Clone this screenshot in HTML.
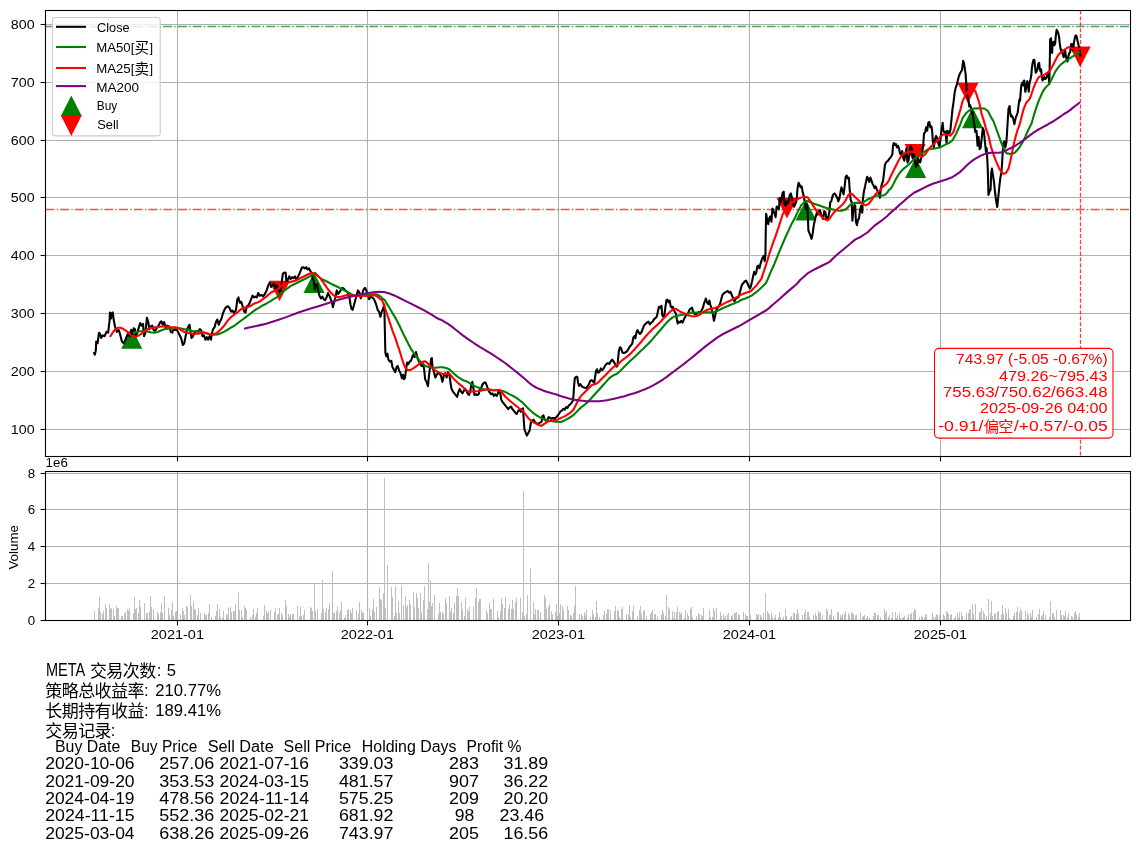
<!DOCTYPE html>
<html><head><meta charset="utf-8"><title>META strategy chart</title>
<style>html,body{margin:0;padding:0;background:#fff}body{width:1139px;height:852px;overflow:hidden;font-family:"Liberation Sans",sans-serif}</style></head>
<body>
<svg width="1139" height="852" viewBox="0 0 1139 852" style="display:block;will-change:transform">
<rect width="1139" height="852" fill="#fff"/>
<g stroke="#b0b0b0" stroke-width="1.1" fill="none">
<path d="M177.5 10.5 V456.5"/>
<path d="M367.5 10.5 V456.5"/>
<path d="M558.5 10.5 V456.5"/>
<path d="M749.5 10.5 V456.5"/>
<path d="M940.5 10.5 V456.5"/>
<path d="M45.5 429.5 H1130.5"/>
<path d="M45.5 371.5 H1130.5"/>
<path d="M45.5 313.5 H1130.5"/>
<path d="M45.5 255.5 H1130.5"/>
<path d="M45.5 197.5 H1130.5"/>
<path d="M45.5 140.5 H1130.5"/>
<path d="M45.5 82.5 H1130.5"/>
<path d="M45.5 24.5 H1130.5"/>
</g>
<path d="M45.5 26.5 H1130.5" stroke="#008000" stroke-opacity="0.7" stroke-width="1.39" stroke-dasharray="8.89 2.22 1.39 2.22" fill="none"/>
<path d="M45.5 209.5 H1130.5" stroke="#ff0000" stroke-opacity="0.7" stroke-width="1.39" stroke-dasharray="8.89 2.22 1.39 2.22" fill="none"/>
<path d="M1080.5 10.5 V456.5" stroke="#ff0000" stroke-opacity="0.75" stroke-width="1.3" stroke-dasharray="4.1 1.78" fill="none"/>
<clipPath id="c1"><rect x="45.5" y="10.5" width="1085" height="446"/></clipPath>
<g clip-path="url(#c1)">
<path d="M131.76 328.13 L121.21 348.73 L142.31 348.73 Z" fill="#008000"/>
<path d="M314.03 272.32 L303.48 292.92 L324.58 292.92 Z" fill="#008000"/>
<path d="M805.99 199.98 L795.44 220.58 L816.54 220.58 Z" fill="#008000"/>
<path d="M915.66 157.28 L905.11 177.88 L926.21 177.88 Z" fill="#008000"/>
<path d="M972.59 107.58 L962.04 128.18 L983.14 128.18 Z" fill="#008000"/>
<path d="M279.56 301.3 L269.01 280.7 L290.11 280.7 Z" fill="#ff0000"/>
<path d="M787.01 218.44 L776.46 197.84 L797.56 197.84 Z" fill="#ff0000"/>
<path d="M915.14 164.63 L904.59 144.03 L925.69 144.03 Z" fill="#ff0000"/>
<path d="M967.94 103.32 L957.39 82.72 L978.49 82.72 Z" fill="#ff0000"/>
<path d="M1080.17 67.02 L1069.62 46.42 L1090.72 46.42 Z" fill="#ff0000"/>
<g fill="none" stroke-width="2.08" stroke-linejoin="round" stroke-linecap="butt">
<path d="M93.73 352.04 L94.79 354.68 L95.85 350.28 L96.2 341.48 L97.61 343.24 L99.01 332.68 L100.25 334.44 L101.13 337.96 L102.89 335.32 L104.65 336.2 L106.41 331.8 L108.17 332.68 L109.58 320.35 L109.93 312.43 L110.99 318.59 L111.69 313.31 L112.75 312.43 L113.8 320.35 L115.21 327.39 L116.97 331.8 L118.73 330.04 L120.14 334.44 L121.9 341.48 L123.66 343.24 L125.42 339.72 L127.18 335.32 L128.42 332.68 L129.65 336.2 L131.06 330.04 L132.46 334.44 L133.7 328.27 L134.93 329.15 L135.99 336.2 L137.39 332.68 L138.8 327.39 L140.21 322.99 L141.62 325.63 L143.03 323.87 L144.08 336.2 L145.49 332.68 L146.9 317.71 L148.31 322.11 L149.37 329.15 L150.77 326.51 L152.18 325.63 L153.59 330.04 L155 330.92 L156.76 328.27 L158.52 325.63 L160.28 322.11 L161.34 321.23 L162.75 324.75 L164.15 322.11 L165.56 327.39 L167.32 325.63 L169.08 326.51 L170.85 331.8 L172.25 332.68 L173.66 329.15 L175.07 330.04 L176.48 329.15 L177.89 331.8 L179.3 334.44 L181.06 337.96 L182.82 345 L184.23 343.24 L185.63 336.2 L187.04 329.15 L188.45 326.51 L189.51 324.75 L190.56 332.68 L191.62 337.96 L193.03 336.2 L194.44 332.68 L196.2 330.92 L197.96 331.8 L199.72 329.15 L201.13 330.04 L202.54 336.2 L203.94 335.32 L205.35 339.72 L206.76 337.08 L208.17 339.72 L209.58 336.2 L210.99 339.72 L212.04 332.68 L213.1 329.15 L214.51 327.39 L215.92 322.11 L217.32 319.47 L218.73 324.75 L220.14 321.23 L221.55 318.59 L222.96 313.31 L224.37 309.79 L226.13 307.15 L227.89 306.27 L229.65 308.03 L231.06 311.55 L232.46 310.67 L234.23 313.31 L235.99 309.79 L237.39 299.23 L238.45 297.46 L239.86 302.75 L241.27 301.87 L242.68 306.27 L244.08 311.55 L245.49 312.43 L246.9 306.27 L248.31 305.39 L249.72 302.75 L251.13 299.23 L252.54 295.7 L253.94 297.46 L255.35 296.58 L256.76 297.46 L258.17 293.06 L259.58 295.7 L261.34 294.82 L263.1 296.58 L264.86 293.94 L266.62 290.42 L268.38 285.14 L269.79 282.5 L271.2 286.9 L272.61 285.14 L274.01 283.38 L275.42 288.66 L276.83 285.14 L278.59 290.42 L280.42 293.06 L281.83 281.62 L282.89 273.7 L284.3 272.46 L285.7 272.82 L286.41 282.5 L287.82 279.86 L289.23 276.34 L290.63 278.98 L292.04 277.22 L293.45 278.1 L294.86 276.34 L296.27 279.86 L297.68 277.22 L299.08 274.58 L300.49 271.06 L301.9 267.54 L303.31 267.18 L304.72 268.42 L306.13 267.18 L307.54 269.3 L308.94 268.42 L310.35 271.06 L311.76 273.7 L312.82 278.98 L313.87 281.62 L314.93 289.54 L315.99 285.14 L317.04 284.26 L318.1 290.42 L319.51 295.7 L320.92 298.35 L322.32 296.58 L323.73 299.23 L325.14 300.11 L326.55 297.46 L327.96 293.06 L329.37 295.7 L330.77 299.23 L332.18 303.63 L332.89 307.15 L333.94 302.75 L335.35 297.46 L336.76 290.42 L338.17 293.94 L339.58 292.18 L340.99 289.54 L342.39 287.78 L343.8 288.66 L345.21 290.42 L346.62 291.3 L348.03 293.06 L349.44 297.46 L350.49 304.51 L351.55 308.91 L352.61 309.79 L353.66 306.27 L355.07 300.99 L356.48 295.7 L357.89 290.42 L359.3 292.18 L360.7 298.35 L362.11 293.94 L363.52 289.54 L364.93 287.78 L366.34 290.42 L367.75 295.7 L369.15 299.23 L370.56 296.58 L371.97 297.46 L373.38 298.35 L374.79 300.99 L376.2 304.51 L377.61 309.79 L379.01 311.55 L380.42 316.83 L381.83 311.55 L383.24 308.03 L384.3 304.51 L385.35 352.82 L386.41 356.34 L387.46 353.7 L388.52 359.86 L389.93 361.62 L391.34 360.74 L392.39 366.9 L393.8 369.54 L395.21 372.18 L396.62 366.9 L397.68 366.02 L399.08 370.42 L400.49 373.06 L401.9 378.35 L402.96 374.82 L404.01 379.23 L405.07 377.46 L406.13 368.66 L407.18 362.5 L408.24 364.26 L409.65 361.62 L411.06 360.74 L412.46 356.34 L413.52 354.58 L414.58 357.22 L415.99 351.94 L417.04 356.34 L418.1 359.86 L419.51 362.5 L420.92 365.14 L421.97 366.02 L423.03 363.38 L424.08 368.66 L425.14 379.23 L426.55 381.87 L427.96 386.27 L429.01 375.7 L430.07 366.9 L431.13 358.98 L431.83 358.1 L432.54 366.9 L433.94 372.18 L435.35 377.46 L436.76 374.82 L438.17 372.18 L439.58 373.94 L440.99 375.7 L442.39 381.87 L443.8 375.7 L445.21 373.06 L446.62 377.46 L448.03 372.18 L449.44 374.82 L450.49 382.75 L451.55 388.91 L452.96 391.55 L454.37 393.31 L455.77 395.07 L457.18 396.83 L458.59 391.55 L459.65 388.91 L461.06 391.55 L462.46 393.31 L463.87 390.67 L465.28 388.91 L466.69 391.55 L468.1 394.19 L469.15 395.07 L470.21 391.55 L471.27 384.51 L472.32 381.87 L473.38 388.03 L474.44 395.07 L475.85 394.19 L477.25 395.07 L478.66 394.19 L479.72 389.79 L481.13 388.03 L482.54 384.51 L483.94 382.75 L485.35 382.39 L486.76 385.39 L488.17 389.79 L489.58 392.43 L490.99 394.19 L492.39 393.31 L493.8 395.95 L495.21 394.19 L496.62 395.95 L498.03 393.31 L499.08 389.79 L500.14 391.55 L501.2 399.47 L502.61 402.11 L504.01 403.87 L505.42 405.63 L506.83 407.39 L508.24 409.15 L509.65 407.39 L511.06 406.51 L512.46 409.15 L513.87 410.92 L515.28 412.68 L516.69 414.08 L518.1 410.92 L519.51 410.04 L520.92 411.8 L521.97 409.15 L523.03 408.27 L523.73 419.72 L524.44 429.4 L525.49 432.04 L526.9 435.56 L528.31 432.92 L529.72 430.28 L530.77 423.24 L532.18 420.6 L533.59 419.72 L535 422.36 L536.41 423.24 L537.82 424.12 L539.23 423.24 L540.63 422.36 L541.69 421.48 L542.39 416.2 L543.45 415.32 L544.51 419.72 L545.92 420.6 L547.32 419.72 L548.73 417.08 L550.14 417.96 L551.55 418.84 L552.96 417.96 L554.37 418.84 L555.77 417.61 L557.18 416.2 L558.59 414.44 L560.42 411.48 L561.83 410.6 L563.24 408.84 L564.65 409.72 L566.06 407.08 L567.46 407.96 L568.87 405.32 L570.28 404.44 L571.69 402.68 L572.75 400.92 L573.45 395.63 L574.15 385.07 L574.86 378.03 L576.27 376.62 L577.32 377.15 L578.03 382.43 L579.08 385.95 L580.49 384.19 L581.9 386.48 L583.31 387.18 L584.72 387.71 L586.13 388.24 L587.54 386.48 L588.94 384.19 L590.35 380.67 L591.76 380.14 L593.17 381.55 L594.23 382.96 L594.93 378.03 L595.99 370.99 L597.04 369.23 L598.1 372.75 L599.51 371.87 L600.92 368.35 L602.32 370.11 L603.73 368.35 L605.14 365.7 L606.55 363.94 L607.96 363.06 L609.37 363.94 L610.77 361.3 L612.18 359.54 L613.59 361.3 L615 363.94 L616.41 366.58 L617.46 365.7 L618.17 357.78 L618.87 350.74 L619.93 347.22 L620.99 348.1 L622.39 352.5 L623.8 353.03 L625.21 352.5 L626.62 351.62 L628.03 349.86 L629.44 347.22 L630.85 345.46 L632.25 343.7 L633.31 337.54 L634.37 336.13 L635.42 338.42 L636.48 332.25 L637.54 330.14 L638.59 332.25 L640 334.01 L641.41 332.25 L642.82 328.73 L644.23 325.21 L645.63 323.8 L647.04 322.57 L648.45 321.69 L649.86 324.33 L651.27 322.57 L652.68 321.69 L654.08 319.05 L655.49 318.17 L656.9 316.41 L657.96 311.13 L659.01 306.73 L660.42 307.61 L661.48 305.85 L662.18 314.65 L662.89 316.41 L664.3 315.53 L665.35 307.61 L666.41 300.21 L667.46 299.68 L668.52 302.32 L669.58 300.56 L670.63 305.85 L671.69 307.61 L672.75 306.73 L673.8 310.25 L674.86 312.01 L675.92 313.77 L676.97 319.93 L677.68 323.45 L678.73 321.69 L679.79 322.57 L681.2 320.81 L682.61 322.57 L684.01 319.05 L685.42 316.41 L686.83 314.65 L688.24 312.89 L689.65 309.37 L691.06 308.49 L692.11 307.61 L693.17 312.01 L694.58 313.77 L695.99 314.65 L697.39 312.89 L698.8 312.01 L700.21 312.54 L701.62 310.25 L703.03 307.61 L704.08 303.2 L705.14 300.56 L705.85 298.45 L706.9 302.32 L708.31 304.08 L709.37 300.56 L710.42 304.96 L711.83 309.37 L712.89 314.65 L713.94 320.81 L715 316.41 L716.06 311.13 L717.46 307.61 L718.87 306.73 L720.28 303.2 L721.34 298.8 L722.39 295.28 L723.45 293.52 L724.86 292.64 L726.27 291.76 L727.68 290.88 L729.08 292.64 L730.49 291.76 L731.9 295.28 L733.31 298.8 L734.37 301.44 L735.77 298.8 L737.18 297.92 L738.59 297.04 L740.42 290.28 L741.83 285 L743.24 283.24 L744.65 281.48 L746.06 280.6 L747.46 283.24 L748.87 286.76 L749.93 288.52 L750.99 285.88 L752.04 281.48 L753.1 276.2 L754.15 271.8 L755.21 274.44 L756.27 272.68 L757.32 266.51 L758.38 265.63 L759.44 268.27 L760.49 263.87 L761.55 260.35 L762.61 257.71 L763.66 255.95 L764.72 261.23 L765.42 255.07 L765.77 230.42 L766.13 213.7 L767.18 219.86 L768.24 224.26 L769.3 218.1 L770.35 216.34 L771.41 221.62 L772.46 208.42 L773.52 211.06 L774.58 213.7 L775.63 217.22 L776.69 206.65 L777.75 207.54 L778.8 209.3 L779.86 197.85 L780.92 202.25 L781.62 198.73 L782.68 192.57 L783.73 191.69 L784.44 204.01 L785.49 205.77 L786.55 201.37 L787.61 204.01 L788.66 201.37 L789.72 195.21 L790.77 193.45 L791.83 196.97 L792.89 203.13 L793.94 206.65 L795.35 204.01 L796.76 199.61 L797.46 189.05 L798.52 182.89 L799.58 184.65 L800.63 187.29 L801.69 186.41 L802.75 192.57 L803.8 196.09 L804.86 202.25 L805.92 209.3 L806.97 204.01 L807.68 210.18 L808.38 230.42 L809.44 233.06 L810.49 235.7 L811.55 238.87 L812.61 233.94 L813.66 226.02 L814.72 220.74 L815.77 216.34 L816.83 212.82 L817.89 214.58 L818.94 211.06 L820 210.18 L821.06 214.58 L822.11 217.22 L823.17 218.98 L824.23 211.06 L825.28 211.94 L826.34 218.1 L827.39 219.86 L828.45 216.34 L829.51 211.06 L830.21 202.25 L831.27 201.37 L832.32 196.97 L833.38 194.33 L834.44 193.45 L835.85 195.21 L837.25 197.85 L838.31 201.37 L839.37 198.73 L840.42 192.57 L841.48 187.29 L842.54 190.81 L843.59 194.33 L844.65 186.41 L845.7 176.73 L846.76 175.49 L847.82 178.49 L848.87 177.61 L849.58 188.17 L850.63 199.61 L851.69 202.25 L852.39 220.74 L853.45 209.3 L854.51 204.89 L855.21 205.77 L855.92 221.62 L856.97 225.14 L858.03 219.86 L859.08 218.1 L860.14 209.3 L861.2 205.77 L862.25 212.82 L862.96 198.73 L864.01 190.81 L865.07 186.41 L866.13 181.13 L867.18 176.73 L868.24 179.37 L869.3 182.01 L870.35 177.61 L871.41 180.25 L872.46 183.77 L873.52 185.53 L874.58 188.17 L875.63 186.41 L876.69 189.05 L877.75 191.69 L878.8 193.45 L879.86 197.85 L880.92 188.17 L881.97 183.77 L883.03 181.13 L884.93 165.07 L885.99 162.43 L887.04 161.55 L888.1 160.67 L889.15 158.91 L890.21 158.03 L891.27 156.27 L892.32 154.51 L893.03 145.7 L893.73 143.06 L894.79 144.82 L895.85 143.94 L896.9 147.46 L897.96 145.7 L899.01 148.35 L900.07 153.63 L901.13 154.51 L902.18 150.99 L903.24 158.03 L904.3 160.67 L905.35 154.51 L906.41 148.35 L907.46 162.43 L908.52 160.67 L909.58 152.75 L910.63 145.7 L911.69 148.35 L912.75 158.03 L913.8 152.75 L914.86 159.79 L915.92 166.83 L916.97 165.95 L918.03 158.03 L919.08 161.55 L920.14 162.43 L921.2 158.03 L922.25 152.75 L923.31 143.94 L924.01 133.38 L925.07 132.5 L926.13 127.22 L927.18 130.74 L928.24 122.82 L929.3 121.94 L930.35 127.22 L931.41 126.34 L932.11 130.74 L932.82 141.3 L933.87 147.46 L934.93 139.54 L935.99 136.02 L937.04 137.78 L938.1 142.18 L939.51 147.46 L940.56 138.66 L941.62 128.98 L942.68 122.82 L943.38 130.74 L944.44 132.5 L945.49 131.62 L946.55 143.06 L947.25 130.74 L948.31 131.62 L949.37 133.38 L950.42 129.86 L951.48 119.3 L952.54 108.73 L953.59 101.69 L954.65 92.89 L955.7 87.61 L956.76 84.96 L957.82 80.56 L958.87 76.16 L959.93 73.52 L960.99 71.76 L962.04 70 L963.1 60.77 L963.94 62.89 L964.79 68.52 L965.63 74.15 L966.2 82.61 L966.76 92.46 L967.61 96.69 L968.45 99.51 L969.3 106.55 L970.14 105.14 L970.99 107.96 L971.83 113.59 L972.68 112.18 L973.52 119.23 L974.37 124.86 L975.21 131.9 L976.48 130.74 L977.54 145.7 L978.59 136.9 L979.65 149.23 L980.7 147.46 L981.76 137.78 L982.82 128.1 L983.87 130.74 L984.93 142.18 L985.99 151.87 L986.69 148.35 L987.75 168.59 L988.45 195 L989.51 191.48 L990.56 189.72 L991.27 172.11 L991.97 168.59 L993.03 175.63 L994.08 182.68 L995.14 193.24 L996.2 201.16 L997.25 206.97 L998.31 196.76 L999.37 186.2 L1000.42 177.39 L1001.48 172.11 L1002.18 161.55 L1002.89 149.23 L1003.59 142.18 L1004.3 141.3 L1005.35 147.46 L1006.41 142.18 L1007.11 131.62 L1007.82 119.3 L1008.52 108.73 L1009.58 106.09 L1010.14 112.18 L1010.99 116.41 L1011.83 115.7 L1012.68 117.11 L1013.52 119.93 L1014.37 124.15 L1015.21 119.93 L1016.06 116.41 L1016.9 115 L1017.75 112.18 L1018.59 105.14 L1019.44 99.51 L1020 100.92 L1020.56 93.87 L1021.13 86.83 L1021.69 84.01 L1022.54 82.61 L1023.1 85.42 L1023.66 81.2 L1024.23 80.49 L1024.79 86.83 L1025.35 91.76 L1026.2 88.24 L1026.76 82.61 L1027.32 81.2 L1028.17 85.42 L1028.73 91.76 L1029.58 82.61 L1030.42 79.79 L1031.27 75.56 L1031.83 68.52 L1032.68 62.89 L1033.52 60.07 L1034.37 59.79 L1034.93 65.7 L1035.77 72.75 L1036.62 71.34 L1037.46 69.23 L1038.31 63.59 L1039.15 62.89 L1039.72 68.52 L1040.56 71.34 L1041.13 69.23 L1041.69 75.56 L1042.54 80.49 L1043.38 78.38 L1044.23 76.97 L1045.07 79.08 L1045.92 78.38 L1046.76 76.97 L1047.61 73.45 L1048.45 72.75 L1049.3 84.01 L1049.86 57.25 L1050.14 39.65 L1050.99 38.24 L1051.55 45.99 L1052.11 53.03 L1052.68 43.17 L1053.52 41.76 L1054.37 45.28 L1055.21 43.17 L1055.77 36.13 L1056.62 29.79 L1057.46 31.2 L1058.31 33.31 L1059.15 37.54 L1059.72 43.17 L1060.56 48.8 L1061.41 52.32 L1062.25 50.21 L1062.82 54.44 L1063.66 57.25 L1064.51 55.85 L1065.07 50.21 L1065.92 55.85 L1066.76 60.07 L1067.61 61.48 L1068.45 55.85 L1069.3 53.03 L1070.14 52.32 L1070.99 44.58 L1071.83 43.87 L1072.68 50.21 L1073.52 45.99 L1074.37 40.35 L1075.21 36.13 L1076.06 35.42 L1076.9 37.54 L1077.75 41.76 L1078.59 45.28 L1079.44 48.1 L1080.42 56.55" stroke="#000"/>
<path d="M132.82 332.68 L136.34 331.97 L139.86 331.27 L143.38 330.92 L146.9 331.27 L150.42 332.32 L153.94 332.68 L157.46 331.97 L160.99 330.56 L164.51 329.15 L168.03 328.8 L171.55 328.63 L175.07 328.27 L178.59 328.1 L182.11 328.8 L185.63 329.51 L189.15 330.21 L192.68 330.92 L196.2 331.27 L199.72 331.62 L203.24 332.32 L206.76 333.56 L210.28 334.44 L213.8 334.79 L217.32 334.44 L220.85 333.2 L224.37 331.62 L227.89 329.51 L231.41 327.39 L234.93 325.28 L238.45 322.64 L241.97 320 L245.49 317.36 L249.01 314.72 L252.54 311.9 L256.06 309.44 L259.58 307.32 L263.1 305.21 L266.62 303.45 L270.14 301.34 L273.66 299.23 L277.18 297.11 L281.13 293.06 L284.65 290.42 L288.17 287.78 L291.69 285.49 L295.21 283.73 L298.73 281.97 L302.25 280.21 L305.77 278.45 L309.3 276.69 L312.82 274.23 L314.93 272.82 L317.22 274.93 L319.86 277.75 L322.5 279.51 L325.14 280.74 L327.78 281.97 L330.42 283.38 L333.06 284.79 L335.7 286.02 L338.35 287.25 L340.99 288.66 L343.63 290.07 L346.27 291.3 L348.91 292.71 L351.55 294.3 L354.19 295.35 L356.83 296.06 L359.47 296.06 L362.11 295.7 L364.75 295.35 L367.39 295.35 L370.04 294.82 L372.68 294.3 L375.32 294.3 L377.96 294.82 L380.6 296.58 L383.24 299.23 L384.65 300 L387.29 304.4 L389.93 308.8 L392.57 313.2 L395.21 317.61 L397.85 322.54 L400.49 327.82 L403.13 333.45 L405.77 338.73 L408.42 344.01 L411.06 348.94 L413.7 352.82 L416.34 356.34 L418.98 359.86 L421.62 363.03 L424.26 365.14 L426.9 366.55 L429.54 367.25 L432.18 367.78 L434.82 367.78 L437.46 367.43 L440.11 367.25 L442.75 367.25 L445.39 367.78 L448.03 368.66 L450.67 370.42 L453.31 373.06 L455.95 375.35 L458.59 377.46 L461.23 379.23 L463.87 380.46 L466.51 381.34 L469.15 382.75 L471.8 384.51 L474.44 385.92 L477.08 387.15 L479.72 388.03 L482.36 388.91 L485 389.44 L487.64 389.79 L490.28 390.14 L492.92 390.32 L495.56 390.32 L498.2 390.32 L500.85 390.49 L503.49 391.2 L506.13 392.43 L508.77 393.84 L511.41 395.07 L514.05 396.48 L516.69 398.06 L519.33 400 L521.97 402.11 L524.61 404.75 L527.25 407.39 L529.89 410.04 L532.54 412.32 L535.18 414.44 L537.82 416.2 L540.46 417.61 L543.1 418.84 L545.74 419.72 L548.38 420.42 L551.02 420.95 L553.66 421.48 L556.3 421.83 L561.13 422.04 L563.77 420.81 L566.41 419.4 L569.05 417.99 L571.69 416.41 L574.33 414.12 L576.97 411.48 L579.61 408.84 L582.25 406.55 L584.89 404.44 L587.54 402.15 L590.18 399.51 L592.82 396.51 L595.46 393.52 L598.1 390.7 L600.74 387.71 L603.38 384.72 L606.02 381.9 L608.66 378.91 L611.3 376.62 L613.94 375.04 L616.58 373.98 L619.23 371.87 L621.87 369.23 L624.51 366.58 L627.15 363.94 L629.79 361.3 L632.43 359.01 L635.07 356.55 L637.71 353.91 L640.35 351.27 L642.99 348.98 L645.63 346.34 L648.27 343.7 L650.92 341.06 L653.56 337.89 L656.2 334.89 L658.84 331.73 L661.48 328.73 L664.12 325.56 L666.76 322.57 L669.4 319.93 L672.04 317.82 L674.68 316.41 L677.32 315.7 L679.96 315.18 L682.61 314.65 L685.25 314.12 L687.89 313.42 L690.53 312.89 L693.17 312.54 L695.81 312.54 L698.45 312.54 L701.09 312.54 L703.73 312.36 L706.37 312.36 L709.01 312.36 L711.65 312.36 L714.3 312.01 L716.94 311.13 L719.58 309.72 L722.22 308.49 L724.86 307.25 L727.5 306.2 L730.14 304.96 L732.78 304.08 L735.42 302.85 L738.06 301.8 L741.13 299.96 L744.65 298.73 L748.17 297.32 L751.69 295.56 L755.21 292.92 L758.73 289.93 L762.25 286.76 L765.77 283.24 L767.39 280 L770.56 272.39 L773.73 265.53 L776.9 257.6 L779.01 252.32 L782.18 244.93 L785.35 237.53 L788.52 230.67 L791.69 223.8 L794.86 217.99 L798.03 211.13 L801.2 205.32 L804.36 202.15 L807.53 201.09 L810.7 202.15 L813.87 203.73 L817.04 204.79 L820.21 205.84 L823.38 206.9 L826.55 207.96 L829.72 208.8 L832.88 209.54 L836.05 210.28 L839.22 210.81 L842.39 210.6 L845.56 209.54 L848.2 206.9 L850.84 204.26 L854.01 202.89 L857.18 202.68 L860.35 203.2 L863.52 202.15 L866.69 200.03 L869.86 198.45 L873.02 196.87 L876.19 195.81 L880 195.28 L881.97 195.74 L883.73 195.21 L885.49 194.33 L887.25 192.57 L889.01 189.93 L890.56 188.84 L893.2 184.44 L895.85 179.15 L898.49 174.75 L901.13 171.23 L903.77 168.59 L906.41 166.48 L909.05 164.19 L911.69 161.55 L914.33 158.91 L916.97 156.62 L919.61 154.86 L922.25 153.1 L924.89 151.34 L927.54 149.58 L930.18 148.87 L932.82 148.7 L935.46 148.35 L938.1 147.82 L940.74 147.11 L943.38 145.7 L946.02 144.3 L948.66 143.06 L951.3 141.3 L952.68 140 L956.2 133.52 L959.72 125.77 L962.54 118.03 L966.06 113.1 L969.58 110.28 L973.8 108.52 L978.73 108.17 L984.37 108.52 L987.89 110.99 L990.7 116.62 L993.31 120.99 L997.54 132.25 L1001.06 142.11 L1003.17 147.75 L1006.69 153.38 L1011.62 154.08 L1014.68 152.75 L1017.32 150.11 L1019.96 146.58 L1022.61 142.18 L1025.25 136.9 L1027.89 130.74 L1031.55 123.45 L1032.96 118.52 L1034.37 113.59 L1035.77 109.37 L1037.18 105.14 L1038.59 101.2 L1040 97.82 L1041.41 94.58 L1042.82 91.76 L1044.23 89.37 L1045.63 87.54 L1047.04 86.13 L1048.45 84.72 L1049.86 82.61 L1051.27 79.79 L1052.68 76.97 L1054.08 74.15 L1055.49 71.34 L1056.9 69.23 L1058.31 67.39 L1059.72 65.7 L1061.13 64.3 L1062.54 63.17 L1063.94 62.18 L1065.35 61.2 L1066.76 60.35 L1068.17 59.37 L1069.58 58.38 L1070.99 57.54 L1072.39 56.69 L1073.8 55.85 L1075.21 55 L1076.62 54.15 L1078.03 53.31 L1079.44 52.46 L1080.42 51.9" stroke="#008000"/>
<path d="M109.93 337.08 L112.57 332.68 L115.21 329.51 L117.85 327.75 L120.49 327.75 L123.13 328.8 L125.77 330.56 L128.42 332.68 L131.06 335.32 L133.7 336.55 L136.34 336.55 L138.98 335.32 L141.62 333.56 L144.26 331.27 L146.9 329.51 L149.54 328.27 L152.18 327.75 L154.82 327.39 L157.46 327.04 L160.11 326.69 L162.75 326.51 L165.39 326.51 L168.03 326.87 L170.67 327.22 L173.31 327.39 L175.95 327.39 L178.59 328.1 L181.23 330.04 L183.87 331.8 L186.51 332.68 L189.15 333.2 L191.8 333.56 L194.44 333.91 L197.08 333.73 L199.72 333.38 L202.36 332.68 L205 332.68 L207.64 333.56 L210.28 334.44 L212.92 334.44 L215.56 333.56 L218.2 331.8 L220.85 329.15 L223.49 326.51 L226.13 322.99 L228.77 319.47 L231.41 316.83 L234.05 314.72 L236.69 312.96 L239.33 310.67 L241.97 308.56 L244.61 307.5 L247.25 307.15 L249.89 306.27 L252.54 304.51 L255.18 303.1 L257.82 302.39 L260.46 300.99 L263.1 298.87 L265.74 297.11 L268.38 294.82 L271.02 292.54 L273.66 291.3 L276.3 290.42 L281.13 286.02 L284.65 283.73 L288.17 282.5 L291.69 281.62 L295.21 280.74 L298.73 278.98 L302.25 277.22 L305.77 275.46 L309.3 273.7 L311.94 272.82 L314.58 273.7 L317.22 275.46 L319.86 277.75 L322.5 281.27 L325.14 285.14 L327.78 289.01 L330.42 292.18 L333.06 294.82 L335.7 296.58 L338.35 297.11 L340.99 296.76 L343.63 296.06 L346.27 295.35 L348.91 295.18 L351.55 295.35 L354.19 295.7 L356.83 296.06 L359.47 296.06 L362.11 295.7 L364.75 295.7 L367.39 296.06 L370.04 295.7 L372.68 295.18 L375.32 295.35 L377.96 297.11 L380.6 299.58 L382.01 300 L384.65 307.04 L387.29 314.96 L389.93 322.89 L392.57 330.81 L395.21 337.85 L397.85 345.77 L400.49 353.7 L403.13 362.5 L405.42 367.78 L407.54 369.89 L410.18 370.07 L412.82 368.66 L415.46 366.9 L418.1 364.79 L420.74 362.85 L423.03 361.62 L424.79 361.27 L426.9 362.5 L429.54 365.14 L432.18 367.78 L434.82 370.07 L437.46 371.83 L440.11 373.06 L442.75 373.94 L445.39 373.94 L448.03 373.59 L449.79 373.94 L452.43 377.46 L455.07 380.11 L457.71 382.75 L460.35 384.86 L462.99 387.15 L465.63 389.44 L468.27 391.55 L470.04 392.08 L472.68 391.55 L475.32 391.2 L477.96 391.02 L480.6 390.67 L483.24 390.14 L485.88 389.44 L488.17 388.91 L490.28 389.44 L492.92 390.14 L495.56 390.32 L498.2 390.14 L499.96 390.32 L502.61 393.31 L505.25 396.48 L507.89 398.94 L510.53 401.23 L513.17 403.52 L515.81 405.63 L518.45 407.75 L521.09 409.51 L522.85 410.92 L525.49 414.44 L528.13 417.96 L530.77 420.6 L533.42 422.36 L536.06 423.59 L538.7 425 L541.34 425.88 L543.98 424.12 L546.62 422.36 L549.26 421.13 L551.9 420.6 L554.54 420.25 L557.18 419.72 L560.25 418.17 L562.89 417.11 L565.53 415.88 L568.17 414.12 L570.81 412.36 L573.45 409.72 L576.09 404.44 L578.73 399.15 L581.37 395.63 L584.01 392.99 L586.65 390.35 L589.3 387.71 L591.94 385.07 L594.58 384.19 L597.22 383.31 L599.86 380.67 L602.5 378.03 L605.14 375.39 L607.78 372.75 L610.42 370.11 L613.06 367.46 L615.7 365.7 L618.35 363.94 L620.99 361.3 L623.63 359.19 L626.27 357.25 L628.91 355.14 L631.55 352.5 L634.19 349.86 L636.83 346.69 L639.47 343.7 L642.11 340.7 L644.75 337.54 L647.39 334.37 L650.04 331.73 L652.68 329.08 L655.32 326.62 L657.96 324.33 L660.6 321.69 L663.24 318.7 L665.88 316.06 L668.52 313.24 L671.16 310.77 L673.8 309.01 L675.92 308.84 L678.2 310.25 L680.85 312.01 L683.49 312.89 L686.13 314.3 L688.77 315.53 L691.41 316.06 L694.05 316.41 L696.69 316.06 L699.33 315 L701.97 313.24 L704.61 311.13 L707.25 309.72 L709.89 309.01 L712.54 308.49 L715.18 307.96 L717.82 306.73 L720.46 305.49 L723.1 304.08 L725.74 302.68 L728.38 301.44 L731.02 300.21 L733.66 298.8 L736.3 297.39 L741.13 294.68 L744.65 293.27 L748.17 292.04 L750.81 291.16 L753.45 288.52 L756.09 285.88 L758.73 282.36 L761.37 278.84 L763.17 273.45 L766.34 263.94 L769.51 253.38 L772.68 243.87 L775.84 235.42 L779.01 225.91 L782.71 214.29 L786.41 207.96 L790.63 203.73 L794.86 200.56 L799.08 198.24 L803.31 196.87 L807.53 197.18 L810.7 201.62 L813.87 206.9 L817.57 212.18 L821.27 216.41 L824.43 219.05 L827.6 220.42 L830.24 217.68 L832.88 213.77 L836.05 210.07 L839.22 207.43 L842.39 204.79 L845.56 200.56 L848.2 195.28 L850.31 193.17 L852.95 194.75 L856.12 197.92 L859.29 201.09 L862.46 203.73 L865.63 205.32 L868.8 203.73 L871.97 199.51 L875.14 194.75 L878.31 191.58 L880 190.53 L881.97 187.29 L883.73 186.06 L885.49 184.65 L887.25 182.89 L889.01 180.25 L890.56 176.51 L893.2 171.23 L895.85 165.95 L898.49 160.67 L901.13 156.27 L903.77 153.63 L906.41 152.39 L909.05 151.87 L911.69 151.87 L914.33 152.39 L916.97 153.63 L919.61 156.27 L922.25 156.62 L924.89 154.51 L927.54 150.99 L930.18 147.46 L932.82 144.82 L935.46 142.18 L938.1 140.07 L940 137.04 L943.52 134.23 L947.04 134.79 L950.56 135.63 L953.38 132.11 L955.49 125.77 L958.31 116.62 L960.42 109.58 L962.54 101.13 L964.65 96.9 L966.41 93.38 L968.17 91.27 L970.99 90.42 L973.8 90.42 L975.21 90.7 L977.32 96.9 L979.44 103.24 L981.55 113.8 L983.66 120.14 L985.77 127.89 L988.59 136.34 L990.92 146.58 L993.56 154.51 L996.2 161.55 L998.84 167.71 L1001.48 172.11 L1003.24 173.87 L1005.88 172.99 L1008.52 168.59 L1010.28 161.55 L1012.04 152.75 L1013.8 143.94 L1015.56 136.9 L1017.32 130.74 L1019.58 124.86 L1020.99 119.23 L1022.39 113.59 L1023.8 108.66 L1025.21 105.14 L1026.62 102.32 L1028.03 100.63 L1029.44 99.23 L1030.85 95.99 L1032.25 91.76 L1033.66 87.54 L1035.07 84.01 L1036.48 81.2 L1037.89 78.38 L1039.3 76.69 L1040.7 76.27 L1042.11 75.85 L1043.52 75.28 L1044.93 74.44 L1046.34 73.45 L1047.75 72.46 L1049.15 71.34 L1050.56 69.65 L1051.97 67.11 L1053.38 64.3 L1054.79 61.48 L1056.2 58.66 L1057.61 56.13 L1059.01 54.15 L1060.42 52.75 L1061.83 51.62 L1063.24 50.49 L1064.65 49.51 L1066.06 48.52 L1067.46 47.68 L1068.87 47.11 L1070.28 47.68 L1071.69 48.52 L1073.1 48.8 L1074.51 48.52 L1075.92 48.24 L1077.32 48.24 L1078.73 48.8 L1080.42 49.65" stroke="#ff0000"/>
<path d="M244.09 328.7 L249.02 327.59 L253.95 326.48 L260.11 325.13 L266.27 323.77 L272.43 321.8 L278.6 319.7 L284.76 317.61 L290.92 315.39 L297.08 313.05 L299.79 312.06 L306.16 310.09 L312.32 307.99 L318.49 306.15 L324.65 304.3 L330.81 302.33 L336.97 300.35 L343.14 298.51 L349.3 296.9 L355.46 295.42 L361.62 294.19 L367.78 293.08 L373.95 292.22 L378.88 291.85 L383.81 291.97 L388.74 293.21 L393.67 295.18 L398.6 297.52 L404.76 300.6 L410.92 303.68 L417.08 306.76 L423.24 309.84 L429.41 313.42 L435.57 317.24 L439.27 319.33 L440.99 319.72 L444.51 321.83 L448.03 323.94 L451.55 326.41 L455.07 329.23 L458.59 332.04 L462.11 334.86 L465.63 337.32 L469.15 339.79 L472.68 342.25 L476.2 344.54 L479.72 346.83 L483.24 348.94 L486.76 351.06 L490.28 353.17 L493.8 355.46 L497.32 357.75 L500.85 360.04 L504.37 362.5 L507.89 365.14 L511.41 367.96 L514.93 370.77 L518.45 373.59 L521.97 376.58 L525.49 379.58 L529.01 382.75 L532.54 385.39 L536.06 387.5 L539.58 389.08 L543.1 390.49 L546.62 391.73 L550.14 392.78 L553.66 393.84 L557.18 394.72 L561.13 396.16 L564.65 397.22 L568.17 398.27 L571.69 399.15 L575.21 399.86 L578.73 400.39 L582.25 400.74 L585.77 401.09 L589.3 401.27 L592.82 401.27 L596.34 401.27 L599.86 401.09 L603.38 400.74 L606.9 400.21 L610.42 399.51 L613.94 398.8 L617.46 397.92 L620.99 397.04 L624.51 396.16 L628.03 395.11 L631.55 394.05 L635.07 392.99 L638.59 391.76 L642.11 390.35 L645.63 388.94 L649.15 387.36 L652.68 385.6 L656.2 383.66 L659.72 381.55 L663.24 379.26 L666.76 376.8 L670.28 374.15 L673.8 371.51 L677.32 368.87 L680.85 366.23 L684.37 363.59 L687.89 360.77 L691.41 357.96 L694.93 355.14 L698.45 352.15 L701.97 349.33 L705.49 346.34 L709.01 343.7 L712.54 341.06 L716.06 338.42 L719.58 336.13 L723.1 334.01 L726.62 332.25 L730.14 330.49 L733.66 328.73 L737.18 326.97 L740 325.56 L766.65 310 L769.3 307.89 L772.82 304.72 L776.34 301.73 L779.86 298.73 L783.38 295.56 L786.9 292.39 L790.42 289.4 L793.94 286.41 L797.46 283.24 L800.14 280 L807.53 273.45 L814.93 269.22 L823.38 265 L829.72 261.83 L836.05 255.49 L842.39 250.21 L848.73 244.93 L855.07 239.65 L861.4 236.48 L867.74 232.25 L869.98 230 L875.26 225.07 L881.13 220.96 L887 216.27 L891.1 212.16 L895.21 208.87 L899.91 204.53 L904.6 200.42 L909.3 196.31 L913.99 192.79 L918.69 190.45 L923.38 188.1 L928.08 185.75 L932.77 183.76 L937.46 182.23 L942.16 180.7 L946.85 179.3 L951.55 177.54 L956.24 174.6 L959.23 172.64 L961.87 170.35 L964.51 167.71 L967.15 165.07 L969.79 162.78 L972.43 160.67 L975.07 158.91 L977.71 157.32 L980.35 155.92 L982.99 154.68 L985.63 153.63 L988.27 153.1 L990.92 152.75 L993.56 152.75 L996.2 152.75 L998.84 152.75 L1001.48 152.39 L1004.12 151.51 L1006.76 150.11 L1009.4 148.7 L1012.04 147.46 L1014.68 146.06 L1017.32 144.47 L1019.96 142.71 L1022.61 140.95 L1025.25 139.01 L1027.89 136.9 L1030.53 134.79 L1033.17 132.85 L1035.81 131.09 L1038.45 129.51 L1041.09 128.1 L1043.73 126.69 L1046.37 125.28 L1049.01 123.7 L1051.65 122.29 L1054.3 120.53 L1056.94 118.77 L1059.58 117.01 L1062.22 115.25 L1064.86 113.49 L1067.5 111.9 L1070.14 110.14 L1072.78 107.85 L1075.42 105.74 L1078.06 103.8 L1080 102.22" stroke="#800080"/>
</g></g>
<rect x="45.5" y="10.5" width="1085" height="446" fill="none" stroke="#000" stroke-width="1.1"/>
<g stroke="#000" stroke-width="1.1">
<path d="M40.6 429.5 H45.5"/>
<path d="M40.6 371.5 H45.5"/>
<path d="M40.6 313.5 H45.5"/>
<path d="M40.6 255.5 H45.5"/>
<path d="M40.6 197.5 H45.5"/>
<path d="M40.6 140.5 H45.5"/>
<path d="M40.6 82.5 H45.5"/>
<path d="M40.6 24.5 H45.5"/>
<path d="M177.5 456.5 V461.4"/>
<path d="M367.5 456.5 V461.4"/>
<path d="M558.5 456.5 V461.4"/>
<path d="M749.5 456.5 V461.4"/>
<path d="M940.5 456.5 V461.4"/>
</g>
<g font-family="Liberation Sans, sans-serif">
<text x="34.6" y="434.1" font-size="12" text-anchor="end" fill="#000" textLength="23.8" lengthAdjust="spacingAndGlyphs" >100</text>
<text x="34.6" y="376.1" font-size="12" text-anchor="end" fill="#000" textLength="23.8" lengthAdjust="spacingAndGlyphs" >200</text>
<text x="34.6" y="318.1" font-size="12" text-anchor="end" fill="#000" textLength="23.8" lengthAdjust="spacingAndGlyphs" >300</text>
<text x="34.6" y="260.1" font-size="12" text-anchor="end" fill="#000" textLength="23.8" lengthAdjust="spacingAndGlyphs" >400</text>
<text x="34.6" y="202.1" font-size="12" text-anchor="end" fill="#000" textLength="23.8" lengthAdjust="spacingAndGlyphs" >500</text>
<text x="34.6" y="145.1" font-size="12" text-anchor="end" fill="#000" textLength="23.8" lengthAdjust="spacingAndGlyphs" >600</text>
<text x="34.6" y="87.1" font-size="12" text-anchor="end" fill="#000" textLength="23.8" lengthAdjust="spacingAndGlyphs" >700</text>
<text x="34.6" y="29.1" font-size="12" text-anchor="end" fill="#000" textLength="23.8" lengthAdjust="spacingAndGlyphs" >800</text>
</g>
<rect x="52.5" y="17.5" width="107.7" height="118.4" rx="2.8" fill="#fff" fill-opacity="0.8" stroke="#ccc" stroke-width="1.1"/>
<g stroke-width="2.08">
<path d="M56 26.8 H86" stroke="#000"/>
<path d="M56 47 H86" stroke="#008000"/>
<path d="M56 68 H86" stroke="#ff0000"/>
<path d="M56 86.1 H86" stroke="#800080"/>
</g>
<path d="M71.3 95.6 L60.75 116.2 L81.85 116.2 Z" fill="#008000"/>
<path d="M71.3 135.9 L60.75 115.3 L81.85 115.3 Z" fill="#ff0000"/>
<g font-family="Liberation Sans, sans-serif">
<text x="97.1" y="32" font-size="12.2" text-anchor="start" fill="#000" textLength="32.5" lengthAdjust="spacingAndGlyphs" >Close</text>
<text x="96.2" y="52" font-size="12.2" text-anchor="start" fill="#000" textLength="38.2" lengthAdjust="spacingAndGlyphs" >MA50[</text>
<text x="134.4" y="52.9" font-size="14.6" fill="#000" font-family="'Liberation Sans', 'Noto Sans CJK SC', sans-serif">买</text>
<text x="149.4" y="52" font-size="12.2" text-anchor="start" fill="#000" textLength="3.6" lengthAdjust="spacingAndGlyphs" >]</text>
<text x="96.2" y="72.7" font-size="12.2" text-anchor="start" fill="#000" textLength="38.2" lengthAdjust="spacingAndGlyphs" >MA25[</text>
<text x="134.4" y="73.6" font-size="14.6" fill="#000" font-family="'Liberation Sans', 'Noto Sans CJK SC', sans-serif">卖</text>
<text x="149.4" y="72.7" font-size="12.2" text-anchor="start" fill="#000" textLength="3.6" lengthAdjust="spacingAndGlyphs" >]</text>
<text x="96.2" y="92.1" font-size="12.2" text-anchor="start" fill="#000" textLength="42.8" lengthAdjust="spacingAndGlyphs" >MA200</text>
<text x="96.8" y="109.5" font-size="12.2" text-anchor="start" fill="#000" textLength="20.5" lengthAdjust="spacingAndGlyphs" >Buy</text>
<text x="97.3" y="128.9" font-size="12.2" text-anchor="start" fill="#000" textLength="21.4" lengthAdjust="spacingAndGlyphs" >Sell</text>
</g>
<rect x="934.5" y="348.4" width="178.5" height="89.7" rx="4.5" fill="#fff" fill-opacity="0.9" stroke="#ff0000" stroke-width="1.1"/>
<g font-family="Liberation Sans, sans-serif">
<text x="1107.6" y="363.6" font-size="15.1" text-anchor="end" fill="#ff0000" textLength="151.5" lengthAdjust="spacingAndGlyphs" >743.97 (-5.05 -0.67%)</text>
<text x="1107.6" y="381" font-size="15.1" text-anchor="end" fill="#ff0000" textLength="108.5" lengthAdjust="spacingAndGlyphs" >479.26~795.43</text>
<text x="1107.6" y="396.7" font-size="15.1" text-anchor="end" fill="#ff0000" textLength="164.8" lengthAdjust="spacingAndGlyphs" >755.63/750.62/663.48</text>
<text x="1107.6" y="412.9" font-size="15.1" text-anchor="end" fill="#ff0000" textLength="127.5" lengthAdjust="spacingAndGlyphs" >2025-09-26 04:00</text>
<text x="938.2" y="431.1" font-size="15.1" text-anchor="start" fill="#ff0000" textLength="45.2" lengthAdjust="spacingAndGlyphs" >-0.91/</text>
<text x="983.7" y="432.3" font-size="15.2" fill="#ff0000" font-family="'Liberation Sans', 'Noto Sans CJK SC', sans-serif" textLength="29.8" lengthAdjust="spacing">偏空</text>
<text x="1107.6" y="431.1" font-size="15.1" text-anchor="end" fill="#ff0000" textLength="93.6" lengthAdjust="spacingAndGlyphs" >/+0.57/-0.05</text>
</g>
<g stroke="#b0b0b0" stroke-width="1.1" fill="none">
<path d="M177.5 471.5 V620.5"/>
<path d="M367.5 471.5 V620.5"/>
<path d="M558.5 471.5 V620.5"/>
<path d="M749.5 471.5 V620.5"/>
<path d="M940.5 471.5 V620.5"/>
<path d="M45.5 583.5 H1130.5"/>
<path d="M45.5 546.5 H1130.5"/>
<path d="M45.5 509.5 H1130.5"/>
<path d="M45.5 473.5 H1130.5"/>
</g>
<path d="M94 620.5 v-9.02 h1 v9.02 zM98 620.5 v-12.75 h1 v12.75 zM99 620.5 v-23.93 h1 v23.93 zM100 620.5 v-8.79 h1 v8.79 zM102 620.5 v-6.66 h1 v6.66 zM103 620.5 v-9.2 h1 v9.2 zM105 620.5 v-16.7 h1 v16.7 zM106 620.5 v-12.25 h1 v12.25 zM109 620.5 v-16.15 h1 v16.15 zM110 620.5 v-11.33 h1 v11.33 zM111 620.5 v-12.09 h1 v12.09 zM113 620.5 v-11.01 h1 v11.01 zM114 620.5 v-4.78 h1 v4.78 zM116 620.5 v-14.88 h1 v14.88 zM117 620.5 v-12.72 h1 v12.72 zM118 620.5 v-12.67 h1 v12.67 zM121 620.5 v-4.73 h1 v4.73 zM122 620.5 v-4.62 h1 v4.62 zM124 620.5 v-6.79 h1 v6.79 zM125 620.5 v-8.2 h1 v8.2 zM127 620.5 v-11.62 h1 v11.62 zM128 620.5 v-9.92 h1 v9.92 zM129 620.5 v-12.8 h1 v12.8 zM133 620.5 v-7.58 h1 v7.58 zM134 620.5 v-23.93 h1 v23.93 zM135 620.5 v-11.63 h1 v11.63 zM136 620.5 v-12.09 h1 v12.09 zM138 620.5 v-7.52 h1 v7.52 zM139 620.5 v-20.25 h1 v20.25 zM140 620.5 v-13.01 h1 v13.01 zM144 620.5 v-17.35 h1 v17.35 zM146 620.5 v-7.66 h1 v7.66 zM147 620.5 v-7.26 h1 v7.26 zM149 620.5 v-8.67 h1 v8.67 zM150 620.5 v-24.85 h1 v24.85 zM151 620.5 v-13.46 h1 v13.46 zM153 620.5 v-11.32 h1 v11.32 zM157 620.5 v-8.28 h1 v8.28 zM158 620.5 v-6.58 h1 v6.58 zM160 620.5 v-8.01 h1 v8.01 zM161 620.5 v-17.54 h1 v17.54 zM162 620.5 v-7.04 h1 v7.04 zM164 620.5 v-24.85 h1 v24.85 zM168 620.5 v-12.27 h1 v12.27 zM169 620.5 v-5.18 h1 v5.18 zM171 620.5 v-10.35 h1 v10.35 zM172 620.5 v-18.23 h1 v18.23 zM173 620.5 v-4.09 h1 v4.09 zM175 620.5 v-8.76 h1 v8.76 zM176 620.5 v-9.65 h1 v9.65 zM180 620.5 v-7 h1 v7 zM182 620.5 v-12.55 h1 v12.55 zM183 620.5 v-9.72 h1 v9.72 zM184 620.5 v-5.15 h1 v5.15 zM186 620.5 v-14.34 h1 v14.34 zM187 620.5 v-13.3 h1 v13.3 zM190 620.5 v-25.77 h1 v25.77 zM191 620.5 v-14.86 h1 v14.86 zM193 620.5 v-18.42 h1 v18.42 zM194 620.5 v-11.29 h1 v11.29 zM195 620.5 v-10.08 h1 v10.08 zM197 620.5 v-5.28 h1 v5.28 zM198 620.5 v-12.45 h1 v12.45 zM200 620.5 v-7.11 h1 v7.11 zM204 620.5 v-7.53 h1 v7.53 zM205 620.5 v-5.2 h1 v5.2 zM206 620.5 v-5.92 h1 v5.92 zM208 620.5 v-7.15 h1 v7.15 zM209 620.5 v-16.14 h1 v16.14 zM211 620.5 v-3.59 h1 v3.59 zM215 620.5 v-4.58 h1 v4.58 zM216 620.5 v-9.79 h1 v9.79 zM217 620.5 v-16.75 h1 v16.75 zM219 620.5 v-11.25 h1 v11.25 zM220 620.5 v-3.67 h1 v3.67 zM222 620.5 v-2.75 h1 v2.75 zM223 620.5 v-10 h1 v10 zM226 620.5 v-6.05 h1 v6.05 zM227 620.5 v-5.06 h1 v5.06 zM228 620.5 v-12.95 h1 v12.95 zM230 620.5 v-13.59 h1 v13.59 zM231 620.5 v-8.87 h1 v8.87 zM233 620.5 v-9.19 h1 v9.19 zM234 620.5 v-9.99 h1 v9.99 zM235 620.5 v-16.39 h1 v16.39 zM238 620.5 v-28.9 h1 v28.9 zM239 620.5 v-10.28 h1 v10.28 zM241 620.5 v-10.38 h1 v10.38 zM242 620.5 v-4 h1 v4 zM244 620.5 v-14.35 h1 v14.35 zM245 620.5 v-12.36 h1 v12.36 zM246 620.5 v-10.19 h1 v10.19 zM250 620.5 v-3.28 h1 v3.28 zM252 620.5 v-5.97 h1 v5.97 zM253 620.5 v-11.58 h1 v11.58 zM255 620.5 v-3.49 h1 v3.49 zM256 620.5 v-7.25 h1 v7.25 zM257 620.5 v-12.44 h1 v12.44 zM263 620.5 v-4.31 h1 v4.31 zM264 620.5 v-15.51 h1 v15.51 zM266 620.5 v-9.9 h1 v9.9 zM267 620.5 v-7.2 h1 v7.2 zM268 620.5 v-8.9 h1 v8.9 zM270 620.5 v-10.26 h1 v10.26 zM274 620.5 v-8.03 h1 v8.03 zM275 620.5 v-12.71 h1 v12.71 zM277 620.5 v-5.61 h1 v5.61 zM278 620.5 v-6.26 h1 v6.26 zM279 620.5 v-12.02 h1 v12.02 zM281 620.5 v-7.58 h1 v7.58 zM282 620.5 v-5.03 h1 v5.03 zM285 620.5 v-20.25 h1 v20.25 zM286 620.5 v-14.35 h1 v14.35 zM288 620.5 v-6.05 h1 v6.05 zM289 620.5 v-3.96 h1 v3.96 zM290 620.5 v-6.95 h1 v6.95 zM292 620.5 v-7 h1 v7 zM293 620.5 v-6.59 h1 v6.59 zM297 620.5 v-14.49 h1 v14.49 zM299 620.5 v-4.91 h1 v4.91 zM300 620.5 v-13.83 h1 v13.83 zM301 620.5 v-4.46 h1 v4.46 zM303 620.5 v-5.61 h1 v5.61 zM304 620.5 v-10.68 h1 v10.68 zM310 620.5 v-13.79 h1 v13.79 zM311 620.5 v-12.26 h1 v12.26 zM312 620.5 v-9.77 h1 v9.77 zM314 620.5 v-37.74 h1 v37.74 zM315 620.5 v-9.06 h1 v9.06 zM317 620.5 v-11.04 h1 v11.04 zM321 620.5 v-7.97 h1 v7.97 zM322 620.5 v-40.5 h1 v40.5 zM323 620.5 v-11.25 h1 v11.25 zM325 620.5 v-8.76 h1 v8.76 zM326 620.5 v-12.4 h1 v12.4 zM328 620.5 v-11.43 h1 v11.43 zM329 620.5 v-17.78 h1 v17.78 zM332 620.5 v-49.71 h1 v49.71 zM333 620.5 v-7.43 h1 v7.43 zM334 620.5 v-7.64 h1 v7.64 zM336 620.5 v-9.04 h1 v9.04 zM337 620.5 v-13.83 h1 v13.83 zM339 620.5 v-7.9 h1 v7.9 zM340 620.5 v-10.95 h1 v10.95 zM341 620.5 v-18.41 h1 v18.41 zM344 620.5 v-2.9 h1 v2.9 zM345 620.5 v-5.55 h1 v5.55 zM347 620.5 v-10.27 h1 v10.27 zM348 620.5 v-11.01 h1 v11.01 zM350 620.5 v-10.25 h1 v10.25 zM351 620.5 v-7.58 h1 v7.58 zM352 620.5 v-12.36 h1 v12.36 zM356 620.5 v-10.45 h1 v10.45 zM358 620.5 v-7.28 h1 v7.28 zM359 620.5 v-18.41 h1 v18.41 zM361 620.5 v-10.8 h1 v10.8 zM362 620.5 v-7.17 h1 v7.17 zM363 620.5 v-8.8 h1 v8.8 zM367 620.5 v-9.67 h1 v9.67 zM369 620.5 v-12.74 h1 v12.74 zM370 620.5 v-4.05 h1 v4.05 zM372 620.5 v-11.15 h1 v11.15 zM373 620.5 v-21.91 h1 v21.91 zM374 620.5 v-8.24 h1 v8.24 zM376 620.5 v-13.6 h1 v13.6 zM379 620.5 v-33.14 h1 v33.14 zM380 620.5 v-21.69 h1 v21.69 zM381 620.5 v-20.81 h1 v20.81 zM383 620.5 v-27.82 h1 v27.82 zM384 620.5 v-142.13 h1 v142.13 zM385 620.5 v-12.19 h1 v12.19 zM387 620.5 v-55.23 h1 v55.23 zM391 620.5 v-33.14 h1 v33.14 zM392 620.5 v-23.69 h1 v23.69 zM394 620.5 v-4.35 h1 v4.35 zM395 620.5 v-34.06 h1 v34.06 zM396 620.5 v-7.62 h1 v7.62 zM398 620.5 v-19.97 h1 v19.97 zM399 620.5 v-7.52 h1 v7.52 zM401 620.5 v-34.98 h1 v34.98 zM403 620.5 v-15.77 h1 v15.77 zM405 620.5 v-24.79 h1 v24.79 zM406 620.5 v-13.49 h1 v13.49 zM407 620.5 v-15.67 h1 v15.67 zM409 620.5 v-20.45 h1 v20.45 zM410 620.5 v-15.17 h1 v15.17 zM413 620.5 v-28.17 h1 v28.17 zM414 620.5 v-13.52 h1 v13.52 zM416 620.5 v-27.86 h1 v27.86 zM417 620.5 v-22.32 h1 v22.32 zM418 620.5 v-12.16 h1 v12.16 zM420 620.5 v-27.56 h1 v27.56 zM421 620.5 v-8.2 h1 v8.2 zM423 620.5 v-20.58 h1 v20.58 zM424 620.5 v-34.98 h1 v34.98 zM427 620.5 v-11.95 h1 v11.95 zM428 620.5 v-57.07 h1 v57.07 zM429 620.5 v-18.37 h1 v18.37 zM430 620.5 v-40.5 h1 v40.5 zM431 620.5 v-14.67 h1 v14.67 zM432 620.5 v-17.63 h1 v17.63 zM434 620.5 v-25.77 h1 v25.77 zM438 620.5 v-6.57 h1 v6.57 zM439 620.5 v-17.03 h1 v17.03 zM440 620.5 v-8.34 h1 v8.34 zM442 620.5 v-8.05 h1 v8.05 zM443 620.5 v-6.57 h1 v6.57 zM445 620.5 v-22.33 h1 v22.33 zM446 620.5 v-17.6 h1 v17.6 zM449 620.5 v-24.18 h1 v24.18 zM450 620.5 v-8.14 h1 v8.14 zM451 620.5 v-12.37 h1 v12.37 zM453 620.5 v-7.34 h1 v7.34 zM454 620.5 v-17.25 h1 v17.25 zM456 620.5 v-24.25 h1 v24.25 zM457 620.5 v-32.22 h1 v32.22 zM458 620.5 v-24.05 h1 v24.05 zM461 620.5 v-18.57 h1 v18.57 zM462 620.5 v-10.95 h1 v10.95 zM464 620.5 v-4.84 h1 v4.84 zM465 620.5 v-22.06 h1 v22.06 zM467 620.5 v-11.13 h1 v11.13 zM468 620.5 v-8.82 h1 v8.82 zM469 620.5 v-13.79 h1 v13.79 zM473 620.5 v-13.65 h1 v13.65 zM475 620.5 v-22.09 h1 v22.09 zM476 620.5 v-32.22 h1 v32.22 zM478 620.5 v-18.53 h1 v18.53 zM479 620.5 v-21.61 h1 v21.61 zM480 620.5 v-21.24 h1 v21.24 zM486 620.5 v-10.24 h1 v10.24 zM487 620.5 v-7.95 h1 v7.95 zM489 620.5 v-17.61 h1 v17.61 zM490 620.5 v-11.74 h1 v11.74 zM491 620.5 v-11.79 h1 v11.79 zM493 620.5 v-21.21 h1 v21.21 zM497 620.5 v-9.95 h1 v9.95 zM498 620.5 v-3.99 h1 v3.99 zM500 620.5 v-9.44 h1 v9.44 zM501 620.5 v-22.09 h1 v22.09 zM502 620.5 v-16.27 h1 v16.27 zM504 620.5 v-13 h1 v13 zM505 620.5 v-23.93 h1 v23.93 zM508 620.5 v-11.26 h1 v11.26 zM509 620.5 v-16.46 h1 v16.46 zM511 620.5 v-11.75 h1 v11.75 zM512 620.5 v-20.61 h1 v20.61 zM513 620.5 v-11.05 h1 v11.05 zM515 620.5 v-18.16 h1 v18.16 zM516 620.5 v-22.27 h1 v22.27 zM520 620.5 v-22.82 h1 v22.82 zM522 620.5 v-8.41 h1 v8.41 zM523 620.5 v-129.61 h1 v129.61 zM524 620.5 v-4.88 h1 v4.88 zM526 620.5 v-6.95 h1 v6.95 zM527 620.5 v-25.77 h1 v25.77 zM530 620.5 v-52.47 h1 v52.47 zM533 620.5 v-18.15 h1 v18.15 zM534 620.5 v-6.43 h1 v6.43 zM535 620.5 v-11.12 h1 v11.12 zM537 620.5 v-10.23 h1 v10.23 zM538 620.5 v-11 h1 v11 zM540 620.5 v-8.51 h1 v8.51 zM544 620.5 v-25.04 h1 v25.04 zM545 620.5 v-22.05 h1 v22.05 zM546 620.5 v-11.19 h1 v11.19 zM548 620.5 v-13.79 h1 v13.79 zM549 620.5 v-16.95 h1 v16.95 zM551 620.5 v-9.78 h1 v9.78 zM552 620.5 v-6.04 h1 v6.04 zM555 620.5 v-8.18 h1 v8.18 zM556 620.5 v-16.94 h1 v16.94 zM557 620.5 v-4.96 h1 v4.96 zM559 620.5 v-7.86 h1 v7.86 zM560 620.5 v-16.1 h1 v16.1 zM562 620.5 v-14.46 h1 v14.46 zM563 620.5 v-10.1 h1 v10.1 zM567 620.5 v-14.18 h1 v14.18 zM568 620.5 v-10.58 h1 v10.58 zM570 620.5 v-5.71 h1 v5.71 zM571 620.5 v-4.78 h1 v4.78 zM573 620.5 v-7.16 h1 v7.16 zM574 620.5 v-14.37 h1 v14.37 zM575 620.5 v-34.06 h1 v34.06 zM579 620.5 v-6.16 h1 v6.16 zM581 620.5 v-6.47 h1 v6.47 zM582 620.5 v-4.57 h1 v4.57 zM584 620.5 v-8.57 h1 v8.57 zM585 620.5 v-5.29 h1 v5.29 zM586 620.5 v-10.56 h1 v10.56 zM590 620.5 v-3.05 h1 v3.05 zM592 620.5 v-10.14 h1 v10.14 zM593 620.5 v-6.53 h1 v6.53 zM595 620.5 v-3.6 h1 v3.6 zM596 620.5 v-19.88 h1 v19.88 zM597 620.5 v-7.56 h1 v7.56 zM599 620.5 v-3.11 h1 v3.11 zM603 620.5 v-5.63 h1 v5.63 zM604 620.5 v-9.47 h1 v9.47 zM606 620.5 v-6.7 h1 v6.7 zM607 620.5 v-11.64 h1 v11.64 zM608 620.5 v-11.41 h1 v11.41 zM610 620.5 v-10.9 h1 v10.9 zM614 620.5 v-9.2 h1 v9.2 zM615 620.5 v-14.4 h1 v14.4 zM617 620.5 v-10.53 h1 v10.53 zM618 620.5 v-9.54 h1 v9.54 zM619 620.5 v-3.03 h1 v3.03 zM621 620.5 v-11.53 h1 v11.53 zM622 620.5 v-13.85 h1 v13.85 zM626 620.5 v-6.66 h1 v6.66 zM628 620.5 v-6.13 h1 v6.13 zM629 620.5 v-15.12 h1 v15.12 zM630 620.5 v-3.42 h1 v3.42 zM632 620.5 v-9.26 h1 v9.26 zM633 620.5 v-14.96 h1 v14.96 zM637 620.5 v-4.88 h1 v4.88 zM639 620.5 v-10.06 h1 v10.06 zM640 620.5 v-14.71 h1 v14.71 zM641 620.5 v-6.95 h1 v6.95 zM643 620.5 v-9.4 h1 v9.4 zM644 620.5 v-10.93 h1 v10.93 zM646 620.5 v-4.82 h1 v4.82 zM650 620.5 v-6.89 h1 v6.89 zM651 620.5 v-8.16 h1 v8.16 zM652 620.5 v-10.34 h1 v10.34 zM654 620.5 v-6.99 h1 v6.99 zM655 620.5 v-6.48 h1 v6.48 zM657 620.5 v-4.46 h1 v4.46 zM661 620.5 v-5.93 h1 v5.93 zM662 620.5 v-10.38 h1 v10.38 zM663 620.5 v-7.26 h1 v7.26 zM665 620.5 v-4.7 h1 v4.7 zM666 620.5 v-25.22 h1 v25.22 zM668 620.5 v-13.67 h1 v13.67 zM669 620.5 v-11.39 h1 v11.39 zM672 620.5 v-9.02 h1 v9.02 zM673 620.5 v-2.1 h1 v2.1 zM674 620.5 v-8.9 h1 v8.9 zM676 620.5 v-8.31 h1 v8.31 zM677 620.5 v-13.35 h1 v13.35 zM679 620.5 v-8.04 h1 v8.04 zM680 620.5 v-6.42 h1 v6.42 zM681 620.5 v-8.36 h1 v8.36 zM684 620.5 v-2.74 h1 v2.74 zM685 620.5 v-10.46 h1 v10.46 zM687 620.5 v-7.58 h1 v7.58 zM688 620.5 v-4.77 h1 v4.77 zM690 620.5 v-11.83 h1 v11.83 zM691 620.5 v-13.01 h1 v13.01 zM692 620.5 v-3.46 h1 v3.46 zM696 620.5 v-4.78 h1 v4.78 zM698 620.5 v-7.34 h1 v7.34 zM699 620.5 v-6.98 h1 v6.98 zM701 620.5 v-5.35 h1 v5.35 zM702 620.5 v-4.12 h1 v4.12 zM703 620.5 v-12.76 h1 v12.76 zM709 620.5 v-10.08 h1 v10.08 zM710 620.5 v-3.69 h1 v3.69 zM712 620.5 v-3.43 h1 v3.43 zM713 620.5 v-12.55 h1 v12.55 zM714 620.5 v-9.78 h1 v9.78 zM716 620.5 v-12.48 h1 v12.48 zM720 620.5 v-8.93 h1 v8.93 zM721 620.5 v-4.18 h1 v4.18 zM723 620.5 v-6.94 h1 v6.94 zM724 620.5 v-2.33 h1 v2.33 zM725 620.5 v-4.39 h1 v4.39 zM727 620.5 v-5.97 h1 v5.97 zM728 620.5 v-7.74 h1 v7.74 zM731 620.5 v-4.39 h1 v4.39 zM732 620.5 v-5.75 h1 v5.75 zM734 620.5 v-7.44 h1 v7.44 zM735 620.5 v-7.16 h1 v7.16 zM736 620.5 v-8.04 h1 v8.04 zM738 620.5 v-6.6 h1 v6.6 zM739 620.5 v-5.19 h1 v5.19 zM743 620.5 v-8.5 h1 v8.5 zM745 620.5 v-6.07 h1 v6.07 zM746 620.5 v-4.09 h1 v4.09 zM747 620.5 v-4.46 h1 v4.46 zM749 620.5 v-5.89 h1 v5.89 zM750 620.5 v-5.61 h1 v5.61 zM756 620.5 v-6.29 h1 v6.29 zM757 620.5 v-5.86 h1 v5.86 zM758 620.5 v-6.34 h1 v6.34 zM760 620.5 v-5.51 h1 v5.51 zM761 620.5 v-3.32 h1 v3.32 zM763 620.5 v-7.05 h1 v7.05 zM765 620.5 v-27.06 h1 v27.06 zM767 620.5 v-9.35 h1 v9.35 zM768 620.5 v-7.07 h1 v7.07 zM769 620.5 v-5.34 h1 v5.34 zM771 620.5 v-7.09 h1 v7.09 zM772 620.5 v-3.76 h1 v3.76 zM774 620.5 v-2.47 h1 v2.47 zM775 620.5 v-5.94 h1 v5.94 zM778 620.5 v-3.8 h1 v3.8 zM779 620.5 v-8.05 h1 v8.05 zM780 620.5 v-3.54 h1 v3.54 zM782 620.5 v-1.76 h1 v1.76 zM783 620.5 v-3.6 h1 v3.6 zM785 620.5 v-11.49 h1 v11.49 zM786 620.5 v-4.83 h1 v4.83 zM790 620.5 v-3.09 h1 v3.09 zM791 620.5 v-4.06 h1 v4.06 zM793 620.5 v-7.22 h1 v7.22 zM794 620.5 v-7.14 h1 v7.14 zM796 620.5 v-6.17 h1 v6.17 zM797 620.5 v-11.11 h1 v11.11 zM798 620.5 v-7.82 h1 v7.82 zM802 620.5 v-5.62 h1 v5.62 zM804 620.5 v-7.41 h1 v7.41 zM805 620.5 v-11.33 h1 v11.33 zM807 620.5 v-8.76 h1 v8.76 zM808 620.5 v-8.96 h1 v8.96 zM809 620.5 v-3.47 h1 v3.47 zM813 620.5 v-5.27 h1 v5.27 zM815 620.5 v-7.81 h1 v7.81 zM816 620.5 v-4.92 h1 v4.92 zM818 620.5 v-9.08 h1 v9.08 zM819 620.5 v-7.33 h1 v7.33 zM820 620.5 v-8.43 h1 v8.43 zM822 620.5 v-5.08 h1 v5.08 zM826 620.5 v-11.16 h1 v11.16 zM827 620.5 v-9.74 h1 v9.74 zM829 620.5 v-5.05 h1 v5.05 zM830 620.5 v-5.79 h1 v5.79 zM831 620.5 v-11.11 h1 v11.11 zM833 620.5 v-4.75 h1 v4.75 zM837 620.5 v-8.2 h1 v8.2 zM838 620.5 v-8.6 h1 v8.6 zM840 620.5 v-5.54 h1 v5.54 zM841 620.5 v-3.27 h1 v3.27 zM842 620.5 v-6.03 h1 v6.03 zM844 620.5 v-6.53 h1 v6.53 zM845 620.5 v-9.24 h1 v9.24 zM848 620.5 v-7.93 h1 v7.93 zM849 620.5 v-5.64 h1 v5.64 zM851 620.5 v-8.21 h1 v8.21 zM852 620.5 v-7.14 h1 v7.14 zM853 620.5 v-6.15 h1 v6.15 zM855 620.5 v-5.76 h1 v5.76 zM856 620.5 v-5.04 h1 v5.04 zM860 620.5 v-7.69 h1 v7.69 zM862 620.5 v-3.52 h1 v3.52 zM863 620.5 v-4.27 h1 v4.27 zM864 620.5 v-5.69 h1 v5.69 zM866 620.5 v-2.94 h1 v2.94 zM867 620.5 v-4.68 h1 v4.68 zM869 620.5 v-2.31 h1 v2.31 zM873 620.5 v-4.21 h1 v4.21 zM874 620.5 v-7.41 h1 v7.41 zM875 620.5 v-7.41 h1 v7.41 zM877 620.5 v-5.61 h1 v5.61 zM878 620.5 v-5.19 h1 v5.19 zM880 620.5 v-3.05 h1 v3.05 zM884 620.5 v-11.59 h1 v11.59 zM885 620.5 v-7.32 h1 v7.32 zM886 620.5 v-9.5 h1 v9.5 zM888 620.5 v-3.91 h1 v3.91 zM889 620.5 v-5.36 h1 v5.36 zM891 620.5 v-2.58 h1 v2.58 zM892 620.5 v-8.31 h1 v8.31 zM895 620.5 v-8.93 h1 v8.93 zM896 620.5 v-2.5 h1 v2.5 zM897 620.5 v-5.74 h1 v5.74 zM899 620.5 v-7.82 h1 v7.82 zM900 620.5 v-2.67 h1 v2.67 zM902 620.5 v-2.6 h1 v2.6 zM903 620.5 v-3.67 h1 v3.67 zM904 620.5 v-4.47 h1 v4.47 zM907 620.5 v-3.17 h1 v3.17 zM908 620.5 v-6.05 h1 v6.05 zM910 620.5 v-6.7 h1 v6.7 zM911 620.5 v-7.98 h1 v7.98 zM913 620.5 v-8.25 h1 v8.25 zM914 620.5 v-11.85 h1 v11.85 zM915 620.5 v-10.19 h1 v10.19 zM919 620.5 v-3.36 h1 v3.36 zM921 620.5 v-4.85 h1 v4.85 zM922 620.5 v-3.78 h1 v3.78 zM924 620.5 v-3.77 h1 v3.77 zM925 620.5 v-5.91 h1 v5.91 zM926 620.5 v-6.15 h1 v6.15 zM932 620.5 v-7.72 h1 v7.72 zM933 620.5 v-3.04 h1 v3.04 zM935 620.5 v-3.56 h1 v3.56 zM936 620.5 v-6.16 h1 v6.16 zM937 620.5 v-5.7 h1 v5.7 zM939 620.5 v-5.44 h1 v5.44 zM943 620.5 v-6.36 h1 v6.36 zM944 620.5 v-4.71 h1 v4.71 zM946 620.5 v-9.33 h1 v9.33 zM947 620.5 v-8.08 h1 v8.08 zM948 620.5 v-6.71 h1 v6.71 zM950 620.5 v-5.29 h1 v5.29 zM951 620.5 v-6.7 h1 v6.7 zM954 620.5 v-2.19 h1 v2.19 zM955 620.5 v-4.86 h1 v4.86 zM957 620.5 v-7.86 h1 v7.86 zM958 620.5 v-3.97 h1 v3.97 zM959 620.5 v-8.65 h1 v8.65 zM961 620.5 v-8.63 h1 v8.63 zM962 620.5 v-4.39 h1 v4.39 zM966 620.5 v-7.57 h1 v7.57 zM968 620.5 v-7.51 h1 v7.51 zM969 620.5 v-10.75 h1 v10.75 zM970 620.5 v-11.62 h1 v11.62 zM972 620.5 v-16.02 h1 v16.02 zM973 620.5 v-6.2 h1 v6.2 zM975 620.5 v-16.02 h1 v16.02 zM979 620.5 v-8.38 h1 v8.38 zM980 620.5 v-8.63 h1 v8.63 zM981 620.5 v-12.28 h1 v12.28 zM983 620.5 v-9.93 h1 v9.93 zM984 620.5 v-6.24 h1 v6.24 zM986 620.5 v-4.63 h1 v4.63 zM988 620.5 v-21.91 h1 v21.91 zM990 620.5 v-7.02 h1 v7.02 zM991 620.5 v-19.88 h1 v19.88 zM992 620.5 v-4.96 h1 v4.96 zM994 620.5 v-7.65 h1 v7.65 zM995 620.5 v-6.41 h1 v6.41 zM997 620.5 v-8.25 h1 v8.25 zM998 620.5 v-9.88 h1 v9.88 zM1001 620.5 v-6.36 h1 v6.36 zM1002 620.5 v-15.2 h1 v15.2 zM1003 620.5 v-6.53 h1 v6.53 zM1005 620.5 v-12.2 h1 v12.2 zM1006 620.5 v-7.79 h1 v7.79 zM1008 620.5 v-11.99 h1 v11.99 zM1009 620.5 v-2.47 h1 v2.47 zM1013 620.5 v-4.99 h1 v4.99 zM1014 620.5 v-7.75 h1 v7.75 zM1016 620.5 v-8.95 h1 v8.95 zM1017 620.5 v-13.53 h1 v13.53 zM1019 620.5 v-7.69 h1 v7.69 zM1020 620.5 v-11.73 h1 v11.73 zM1021 620.5 v-9.23 h1 v9.23 zM1025 620.5 v-9.7 h1 v9.7 zM1027 620.5 v-7.82 h1 v7.82 zM1028 620.5 v-5.74 h1 v5.74 zM1030 620.5 v-7.6 h1 v7.6 zM1031 620.5 v-3.69 h1 v3.69 zM1032 620.5 v-10.09 h1 v10.09 zM1036 620.5 v-3.62 h1 v3.62 zM1038 620.5 v-6.28 h1 v6.28 zM1039 620.5 v-11.11 h1 v11.11 zM1041 620.5 v-4.98 h1 v4.98 zM1042 620.5 v-5.55 h1 v5.55 zM1043 620.5 v-9.27 h1 v9.27 zM1045 620.5 v-5.54 h1 v5.54 zM1049 620.5 v-3.78 h1 v3.78 zM1050 620.5 v-19.33 h1 v19.33 zM1052 620.5 v-7.03 h1 v7.03 zM1053 620.5 v-7.43 h1 v7.43 zM1054 620.5 v-3.81 h1 v3.81 zM1056 620.5 v-10.74 h1 v10.74 zM1060 620.5 v-10.67 h1 v10.67 zM1061 620.5 v-5.37 h1 v5.37 zM1063 620.5 v-5.99 h1 v5.99 zM1064 620.5 v-4.37 h1 v4.37 zM1065 620.5 v-9.99 h1 v9.99 zM1067 620.5 v-3.84 h1 v3.84 zM1068 620.5 v-7.12 h1 v7.12 zM1071 620.5 v-4.22 h1 v4.22 zM1072 620.5 v-3.82 h1 v3.82 zM1074 620.5 v-7.19 h1 v7.19 zM1075 620.5 v-9.47 h1 v9.47 zM1076 620.5 v-5.16 h1 v5.16 zM1078 620.5 v-3.81 h1 v3.81 zM1079 620.5 v-7.43 h1 v7.43 z" fill="#bfbfbf" shape-rendering="crispEdges"/>
<rect x="45.5" y="471.5" width="1085" height="149" fill="none" stroke="#000" stroke-width="1.1"/>
<g stroke="#000" stroke-width="1.1">
<path d="M40.6 620.5 H45.5"/>
<path d="M40.6 583.5 H45.5"/>
<path d="M40.6 546.5 H45.5"/>
<path d="M40.6 509.5 H45.5"/>
<path d="M40.6 473.5 H45.5"/>
<path d="M177.5 620.5 V625.4"/>
<path d="M367.5 620.5 V625.4"/>
<path d="M558.5 620.5 V625.4"/>
<path d="M749.5 620.5 V625.4"/>
<path d="M940.5 620.5 V625.4"/>
</g>
<g font-family="Liberation Sans, sans-serif">
<text x="35.2" y="625" font-size="12" text-anchor="end" fill="#000" textLength="7.4" lengthAdjust="spacingAndGlyphs" >0</text>
<text x="35.2" y="588" font-size="12" text-anchor="end" fill="#000" textLength="7.4" lengthAdjust="spacingAndGlyphs" >2</text>
<text x="35.2" y="551" font-size="12" text-anchor="end" fill="#000" textLength="7.4" lengthAdjust="spacingAndGlyphs" >4</text>
<text x="35.2" y="514" font-size="12" text-anchor="end" fill="#000" textLength="7.4" lengthAdjust="spacingAndGlyphs" >6</text>
<text x="35.2" y="478" font-size="12" text-anchor="end" fill="#000" textLength="7.4" lengthAdjust="spacingAndGlyphs" >8</text>
<text x="45.6" y="466.6" font-size="12" text-anchor="start" fill="#000" textLength="22.2" lengthAdjust="spacingAndGlyphs" >1e6</text>
<text x="177.4" y="639" font-size="12" text-anchor="middle" fill="#000" textLength="53.2" lengthAdjust="spacingAndGlyphs" >2021-01</text>
<text x="367.4" y="639" font-size="12" text-anchor="middle" fill="#000" textLength="53.2" lengthAdjust="spacingAndGlyphs" >2022-01</text>
<text x="558.4" y="639" font-size="12" text-anchor="middle" fill="#000" textLength="53.2" lengthAdjust="spacingAndGlyphs" >2023-01</text>
<text x="749.4" y="639" font-size="12" text-anchor="middle" fill="#000" textLength="53.2" lengthAdjust="spacingAndGlyphs" >2024-01</text>
<text x="940.4" y="639" font-size="12" text-anchor="middle" fill="#000" textLength="53.2" lengthAdjust="spacingAndGlyphs" >2025-01</text>
<text transform="translate(18.3 547.3) rotate(-90)" font-size="12" text-anchor="middle" textLength="44.6" lengthAdjust="spacingAndGlyphs">Volume</text>
</g>
<g font-family="Liberation Sans, sans-serif">
<text x="46" y="676.1" font-size="17.9" text-anchor="start" fill="#000" textLength="39.2" lengthAdjust="spacingAndGlyphs" >META</text>
<text x="89.92" y="677" font-size="17" fill="#000" font-family="'Liberation Sans', 'Noto Sans CJK SC', sans-serif" textLength="66.35" lengthAdjust="spacing">交易次数</text>
<text x="156.7" y="676.1" font-size="16.6" text-anchor="start" fill="#000" >:</text>
<text x="166.8" y="676.1" font-size="16.6" text-anchor="start" fill="#000" >5</text>
<text x="45.23" y="696.8" font-size="17" fill="#000" font-family="'Liberation Sans', 'Noto Sans CJK SC', sans-serif" textLength="99.25" lengthAdjust="spacing">策略总收益率</text>
<text x="144" y="695.8" font-size="16.6" text-anchor="start" fill="#000" >:</text>
<text x="155.3" y="695.8" font-size="16.6" text-anchor="start" fill="#000" textLength="65.8" lengthAdjust="spacingAndGlyphs" >210.77%</text>
<text x="45.23" y="716.9" font-size="17" fill="#000" font-family="'Liberation Sans', 'Noto Sans CJK SC', sans-serif" textLength="99.25" lengthAdjust="spacing">长期持有收益</text>
<text x="144" y="715.9" font-size="16.6" text-anchor="start" fill="#000" >:</text>
<text x="155.3" y="715.9" font-size="16.6" text-anchor="start" fill="#000" textLength="65.8" lengthAdjust="spacingAndGlyphs" >189.41%</text>
<text x="45.23" y="736.6" font-size="17" fill="#000" font-family="'Liberation Sans', 'Noto Sans CJK SC', sans-serif" textLength="66.35" lengthAdjust="spacing">交易记录</text>
<text x="110.8" y="735.6" font-size="16.6" text-anchor="start" fill="#000" >:</text>
<text x="55" y="751.6" font-size="16" text-anchor="start" fill="#000" textLength="65.2" lengthAdjust="spacingAndGlyphs" >Buy Date</text>
<text x="130.8" y="751.6" font-size="16" text-anchor="start" fill="#000" textLength="66.5" lengthAdjust="spacingAndGlyphs" >Buy Price</text>
<text x="207.7" y="751.6" font-size="16" text-anchor="start" fill="#000" textLength="66" lengthAdjust="spacingAndGlyphs" >Sell Date</text>
<text x="283.6" y="751.6" font-size="16" text-anchor="start" fill="#000" textLength="67.6" lengthAdjust="spacingAndGlyphs" >Sell Price</text>
<text x="361.8" y="751.6" font-size="16" text-anchor="start" fill="#000" textLength="94.6" lengthAdjust="spacingAndGlyphs" >Holding Days</text>
<text x="466.6" y="751.6" font-size="16" text-anchor="start" fill="#000" textLength="54.8" lengthAdjust="spacingAndGlyphs" >Profit %</text>
<text x="45.2" y="769.4" font-size="16.3" text-anchor="start" fill="#000" textLength="89.4" lengthAdjust="spacingAndGlyphs" >2020-10-06</text>
<text x="159.2" y="769.4" font-size="16.3" text-anchor="start" fill="#000" textLength="55" lengthAdjust="spacingAndGlyphs" >257.06</text>
<text x="219.6" y="769.4" font-size="16.3" text-anchor="start" fill="#000" textLength="89.4" lengthAdjust="spacingAndGlyphs" >2021-07-16</text>
<text x="338.9" y="769.4" font-size="16.3" text-anchor="start" fill="#000" textLength="54.6" lengthAdjust="spacingAndGlyphs" >339.03</text>
<text x="449" y="769.4" font-size="16.3" text-anchor="start" fill="#000" textLength="29.9" lengthAdjust="spacingAndGlyphs" >283</text>
<text x="503.5" y="769.4" font-size="16.3" text-anchor="start" fill="#000" textLength="44.7" lengthAdjust="spacingAndGlyphs" >31.89</text>
<text x="45.2" y="786.6" font-size="16.3" text-anchor="start" fill="#000" textLength="89.4" lengthAdjust="spacingAndGlyphs" >2021-09-20</text>
<text x="159.2" y="786.6" font-size="16.3" text-anchor="start" fill="#000" textLength="55" lengthAdjust="spacingAndGlyphs" >353.53</text>
<text x="219.6" y="786.6" font-size="16.3" text-anchor="start" fill="#000" textLength="89.4" lengthAdjust="spacingAndGlyphs" >2024-03-15</text>
<text x="338.9" y="786.6" font-size="16.3" text-anchor="start" fill="#000" textLength="54.6" lengthAdjust="spacingAndGlyphs" >481.57</text>
<text x="449" y="786.6" font-size="16.3" text-anchor="start" fill="#000" textLength="29.9" lengthAdjust="spacingAndGlyphs" >907</text>
<text x="503.5" y="786.6" font-size="16.3" text-anchor="start" fill="#000" textLength="44.7" lengthAdjust="spacingAndGlyphs" >36.22</text>
<text x="45.2" y="804" font-size="16.3" text-anchor="start" fill="#000" textLength="89.4" lengthAdjust="spacingAndGlyphs" >2024-04-19</text>
<text x="159.2" y="804" font-size="16.3" text-anchor="start" fill="#000" textLength="55" lengthAdjust="spacingAndGlyphs" >478.56</text>
<text x="219.6" y="804" font-size="16.3" text-anchor="start" fill="#000" textLength="89.4" lengthAdjust="spacingAndGlyphs" >2024-11-14</text>
<text x="338.9" y="804" font-size="16.3" text-anchor="start" fill="#000" textLength="54.6" lengthAdjust="spacingAndGlyphs" >575.25</text>
<text x="449" y="804" font-size="16.3" text-anchor="start" fill="#000" textLength="29.9" lengthAdjust="spacingAndGlyphs" >209</text>
<text x="503.5" y="804" font-size="16.3" text-anchor="start" fill="#000" textLength="44.7" lengthAdjust="spacingAndGlyphs" >20.20</text>
<text x="45.2" y="821.4" font-size="16.3" text-anchor="start" fill="#000" textLength="89.4" lengthAdjust="spacingAndGlyphs" >2024-11-15</text>
<text x="159.2" y="821.4" font-size="16.3" text-anchor="start" fill="#000" textLength="55" lengthAdjust="spacingAndGlyphs" >552.36</text>
<text x="219.6" y="821.4" font-size="16.3" text-anchor="start" fill="#000" textLength="89.4" lengthAdjust="spacingAndGlyphs" >2025-02-21</text>
<text x="338.9" y="821.4" font-size="16.3" text-anchor="start" fill="#000" textLength="54.6" lengthAdjust="spacingAndGlyphs" >681.92</text>
<text x="454.8" y="821.4" font-size="16.3" text-anchor="start" fill="#000" textLength="19.6" lengthAdjust="spacingAndGlyphs" >98</text>
<text x="499.5" y="821.4" font-size="16.3" text-anchor="start" fill="#000" textLength="44.7" lengthAdjust="spacingAndGlyphs" >23.46</text>
<text x="45.2" y="838.6" font-size="16.3" text-anchor="start" fill="#000" textLength="89.4" lengthAdjust="spacingAndGlyphs" >2025-03-04</text>
<text x="159.2" y="838.6" font-size="16.3" text-anchor="start" fill="#000" textLength="55" lengthAdjust="spacingAndGlyphs" >638.26</text>
<text x="219.6" y="838.6" font-size="16.3" text-anchor="start" fill="#000" textLength="89.4" lengthAdjust="spacingAndGlyphs" >2025-09-26</text>
<text x="338.9" y="838.6" font-size="16.3" text-anchor="start" fill="#000" textLength="54.6" lengthAdjust="spacingAndGlyphs" >743.97</text>
<text x="449" y="838.6" font-size="16.3" text-anchor="start" fill="#000" textLength="29.9" lengthAdjust="spacingAndGlyphs" >205</text>
<text x="503.5" y="838.6" font-size="16.3" text-anchor="start" fill="#000" textLength="44.7" lengthAdjust="spacingAndGlyphs" >16.56</text>
</g>
</svg>
</body></html>
